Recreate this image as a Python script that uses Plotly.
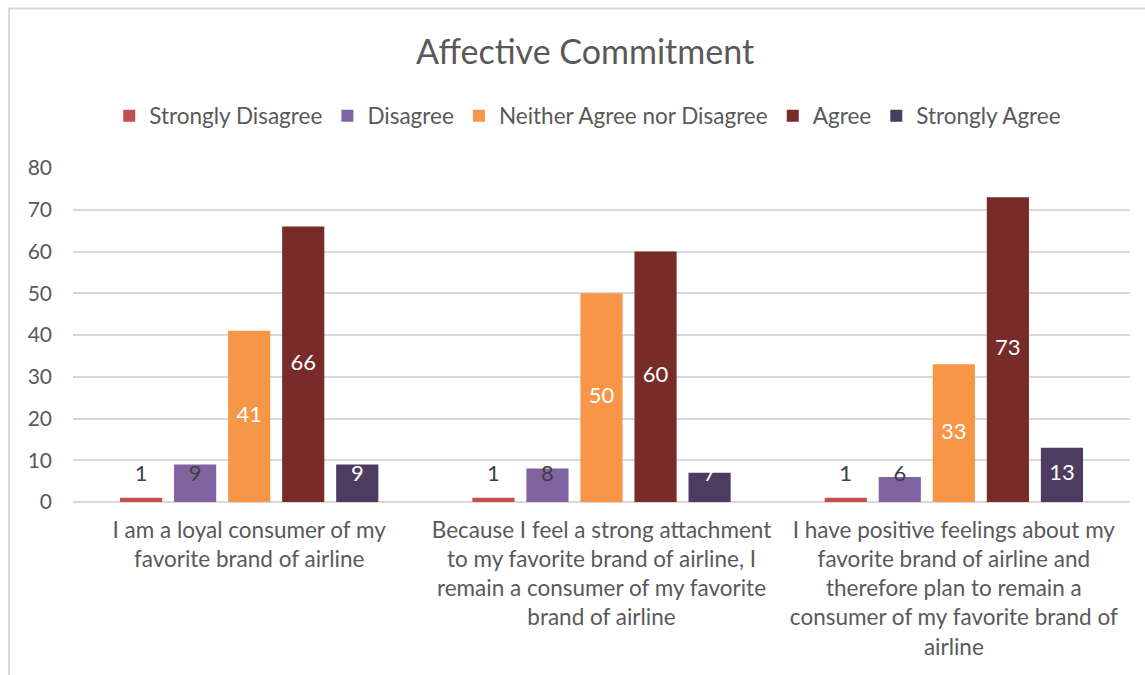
import plotly.graph_objects as go

# Survey statements (category axis) and response counts per answer level
statements = [
    "I am a loyal consumer of my<br>favorite brand of airline",
    "Because I feel a strong attachment<br>to my favorite brand of airline, I<br>remain a consumer of my favorite<br>brand of airline",
    "I have positive feelings about my<br>favorite brand of airline and<br>therefore plan to remain a<br>consumer of my favorite brand of<br>airline",
]
levels = ["Strongly Disagree", "Disagree", "Neither Agree nor Disagree", "Agree", "Strongly Agree"]
strongly_disagree = [1, 1, 1]
disagree = [9, 8, 6]
neither = [41, 50, 33]
agree = [66, 60, 73]
strongly_agree = [9, 7, 13]
y_ticks = [0, 10, 20, 30, 40, 50, 60, 70, 80]

series = [strongly_disagree, disagree, neither, agree, strongly_agree]
colors = ["#C0504D", "#8064A2", "#F79646", "#772C2A", "#4D3B62"]
label_colors = ["#404040", "#404040", "#FFFFFF", "#FFFFFF", "#FFFFFF"]

FONT = "Lato"
GRAY = "#595959"

fig = go.Figure()

for name, vals, col in zip(levels, series, colors):
    fig.add_trace(go.Bar(
        x=statements, y=vals, name=name,
        marker=dict(color=col, line=dict(width=0)),
        hoverinfo="skip",
    ))

# Value labels: centred on each bar, kept clear of the axis for short bars
for name, vals, tcol in zip(levels, series, label_colors):
    fig.add_trace(go.Scatter(
        x=statements, y=[max(v / 2, 6.3) for v in vals],
        mode="text", text=[str(v) for v in vals],
        textfont=dict(family=FONT, size=22, color=tcol),
        textposition="middle center",
        showlegend=False, hoverinfo="skip", cliponaxis=False,
    ))

fig.update_layout(
    width=1145, height=675,
    margin=dict(l=73, r=15, t=168, b=173),
    paper_bgcolor="white", plot_bgcolor="white",
    barmode="group", bargap=0.233, bargroupgap=0.22,
    scattermode="group", scattergap=0.233,
    font=dict(family=FONT, color=GRAY, size=20),
    title=dict(text="Affective Commitment", x=0.511, xanchor="center",
               y=1 - 52 / 675, yanchor="middle",
               font=dict(family=FONT, size=34, color=GRAY)),
    legend=dict(orientation="h", x=0.487, xanchor="center",
                y=1 + (168 - 116) / 334, yanchor="middle",
                font=dict(family=FONT, size=22.5, color=GRAY),
                itemwidth=30, traceorder="normal"),
    showlegend=True,
)

fig.update_xaxes(showgrid=False, showline=False, ticks="", ticklabelstandoff=12,
                 tickfont=dict(family=FONT, size=22.5, color=GRAY))
fig.update_yaxes(range=[0, 80], tickvals=y_ticks, showgrid=True,
                 gridcolor="#D9D9D9", gridwidth=1.5,
                 zeroline=True, zerolinecolor="#D9D9D9", zerolinewidth=1.5,
                 showline=False, ticks="", ticklabelstandoff=20,
                 tickfont=dict(family=FONT, size=21, color=GRAY))

# Light chart frame
fig.add_shape(type="rect", xref="paper", yref="paper",
              x0=(9 - 73) / 1057, x1=1.1, y0=-1.0, y1=(502 - 8.5) / 334,
              line=dict(color="#D9D9D9", width=2), fillcolor="rgba(0,0,0,0)",
              layer="below")

fig.write_html("out.html")
